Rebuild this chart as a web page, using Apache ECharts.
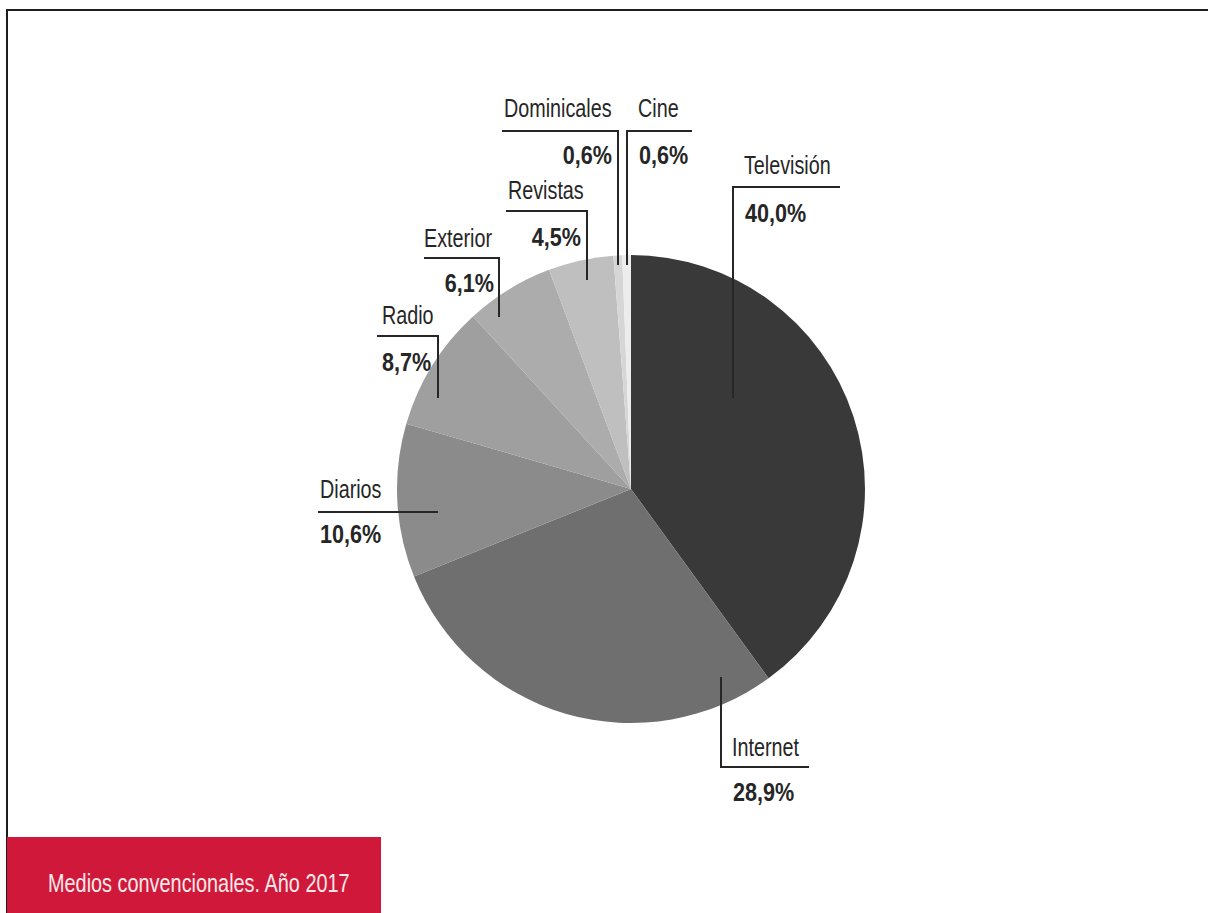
<!DOCTYPE html>
<html>
<head>
<meta charset="utf-8">
<script src="https://cdn.jsdelivr.net/npm/echarts@6/dist/echarts.min.js"></script>
<style>
  html, body { margin: 0; padding: 0; background: #fff; }
  #chart { width: 1208px; height: 913px; }
</style>
</head>
<body>
<div id="chart"></div>
<script>
// Inversión publicitaria por medio (%), medios convencionales 2017
const categories = ['Televisión', 'Internet', 'Diarios', 'Radio', 'Exterior', 'Revistas', 'Dominicales', 'Cine'];
const shares = [40.0, 28.9, 10.6, 8.7, 6.1, 4.5, 0.6, 0.6];
const caption = 'Medios convencionales. Año 2017';

// Slice shades, darkest for the largest medium
const shades = ['#393939', '#6f6f6f', '#8b8b8b', '#9f9f9f', '#acacac', '#bfbfbf', '#d6d6d6', '#ececec'];

// Callout placement: elbow corner, rule end, tick end, text anchors
const callouts = {
  'Televisión':  { cx: 733, cy: 187, hx: 840, vy: 398, nx: 744, ny: 165, vx: 745, vyText: 213, valAlign: 'left' },
  'Internet':    { cx: 721, cy: 767, hx: 809, vy: 677, nx: 732, ny: 747, vx: 733, vyText: 792, valAlign: 'left' },
  'Diarios':     { cx: 438, cy: 512, hx: 318, vy: null, nx: 320, ny: 489, vx: 320, vyText: 534, valAlign: 'left' },
  'Radio':       { cx: 438, cy: 336, hx: 377, vy: 398, nx: 382, ny: 315, vx: 382, vyText: 362, valAlign: 'left' },
  'Exterior':    { cx: 499, cy: 258, hx: 424, vy: 317, nx: 424, ny: 238, vx: 494, vyText: 283, valAlign: 'right' },
  'Revistas':    { cx: 587, cy: 211, hx: 506, vy: 280, nx: 508, ny: 190, vx: 581, vyText: 237, valAlign: 'right' },
  'Dominicales': { cx: 618, cy: 131, hx: 502, vy: 265, nx: 504, ny: 108, vx: 612, vyText: 155, valAlign: 'right' },
  'Cine':        { cx: 627, cy: 131, hx: 692, vy: 265, nx: 638, ny: 108, vx: 639, vyText: 155, valAlign: 'left' }
};

// Condensed lettering: a regular face squeezed horizontally
const FONT = '"Liberation Sans", Arial, sans-serif';
const NAME_SQUEEZE = 0.76;
const VALUE_SQUEEZE = 0.83;
const INK = '#262626';

const fmt = v => v.toFixed(1).replace('.', ',') + '%';

function squeezedText(x, y, text, font, fill, align, squeeze, z) {
  return {
    type: 'text', silent: true, z: z || 10,
    x: x, y: y, scaleX: squeeze,
    style: { x: 0, y: 0, text: text, font: font, fill: fill, textAlign: align, textVerticalAlign: 'middle' }
  };
}

const graphics = [];

// Page frame (top and left rules)
graphics.push({ type: 'line', silent: true, shape: { x1: 6, y1: 10, x2: 1208, y2: 10 }, style: { stroke: '#1e1e1e', lineWidth: 2 } });
graphics.push({ type: 'line', silent: true, shape: { x1: 7, y1: 9, x2: 7, y2: 913 }, style: { stroke: '#1e1e1e', lineWidth: 2 } });

// Caption banner
graphics.push({ type: 'rect', silent: true, shape: { x: 7, y: 837, width: 374, height: 80 }, style: { fill: '#d0193a' } });
graphics.push(squeezedText(48, 883, caption, '26px ' + FONT, '#fbe9ea', 'left', 0.765, 11));

// Callouts: name above the rule, share below it
categories.forEach((name, i) => {
  const c = callouts[name];
  const pts = [[c.hx, c.cy], [c.cx, c.cy]];
  if (c.vy !== null) pts.push([c.cx, c.vy]);
  graphics.push({ type: 'polyline', silent: true, z: 10, shape: { points: pts }, style: { stroke: INK, lineWidth: 2, fill: null } });
  graphics.push(squeezedText(c.nx, c.ny, name, '26px ' + FONT, INK, 'left', NAME_SQUEEZE));
  graphics.push(squeezedText(c.vx, c.vyText, fmt(shares[i]), 'bold 26px ' + FONT, INK, c.valAlign, VALUE_SQUEEZE));
});

const chart = echarts.init(document.getElementById('chart'), null, { renderer: 'svg' });
chart.setOption({
  backgroundColor: '#ffffff',
  animation: false,
  series: [{
    type: 'pie',
    center: [631, 489],
    radius: 234,
    startAngle: 90,
    clockwise: true,
    silent: true,
    label: { show: false },
    labelLine: { show: false },
    itemStyle: { borderWidth: 0 },
    emphasis: { disabled: true },
    data: categories.map((name, i) => ({ name, value: shares[i], itemStyle: { color: shades[i] } }))
  }],
  graphic: graphics
});
</script>
</body>
</html>
